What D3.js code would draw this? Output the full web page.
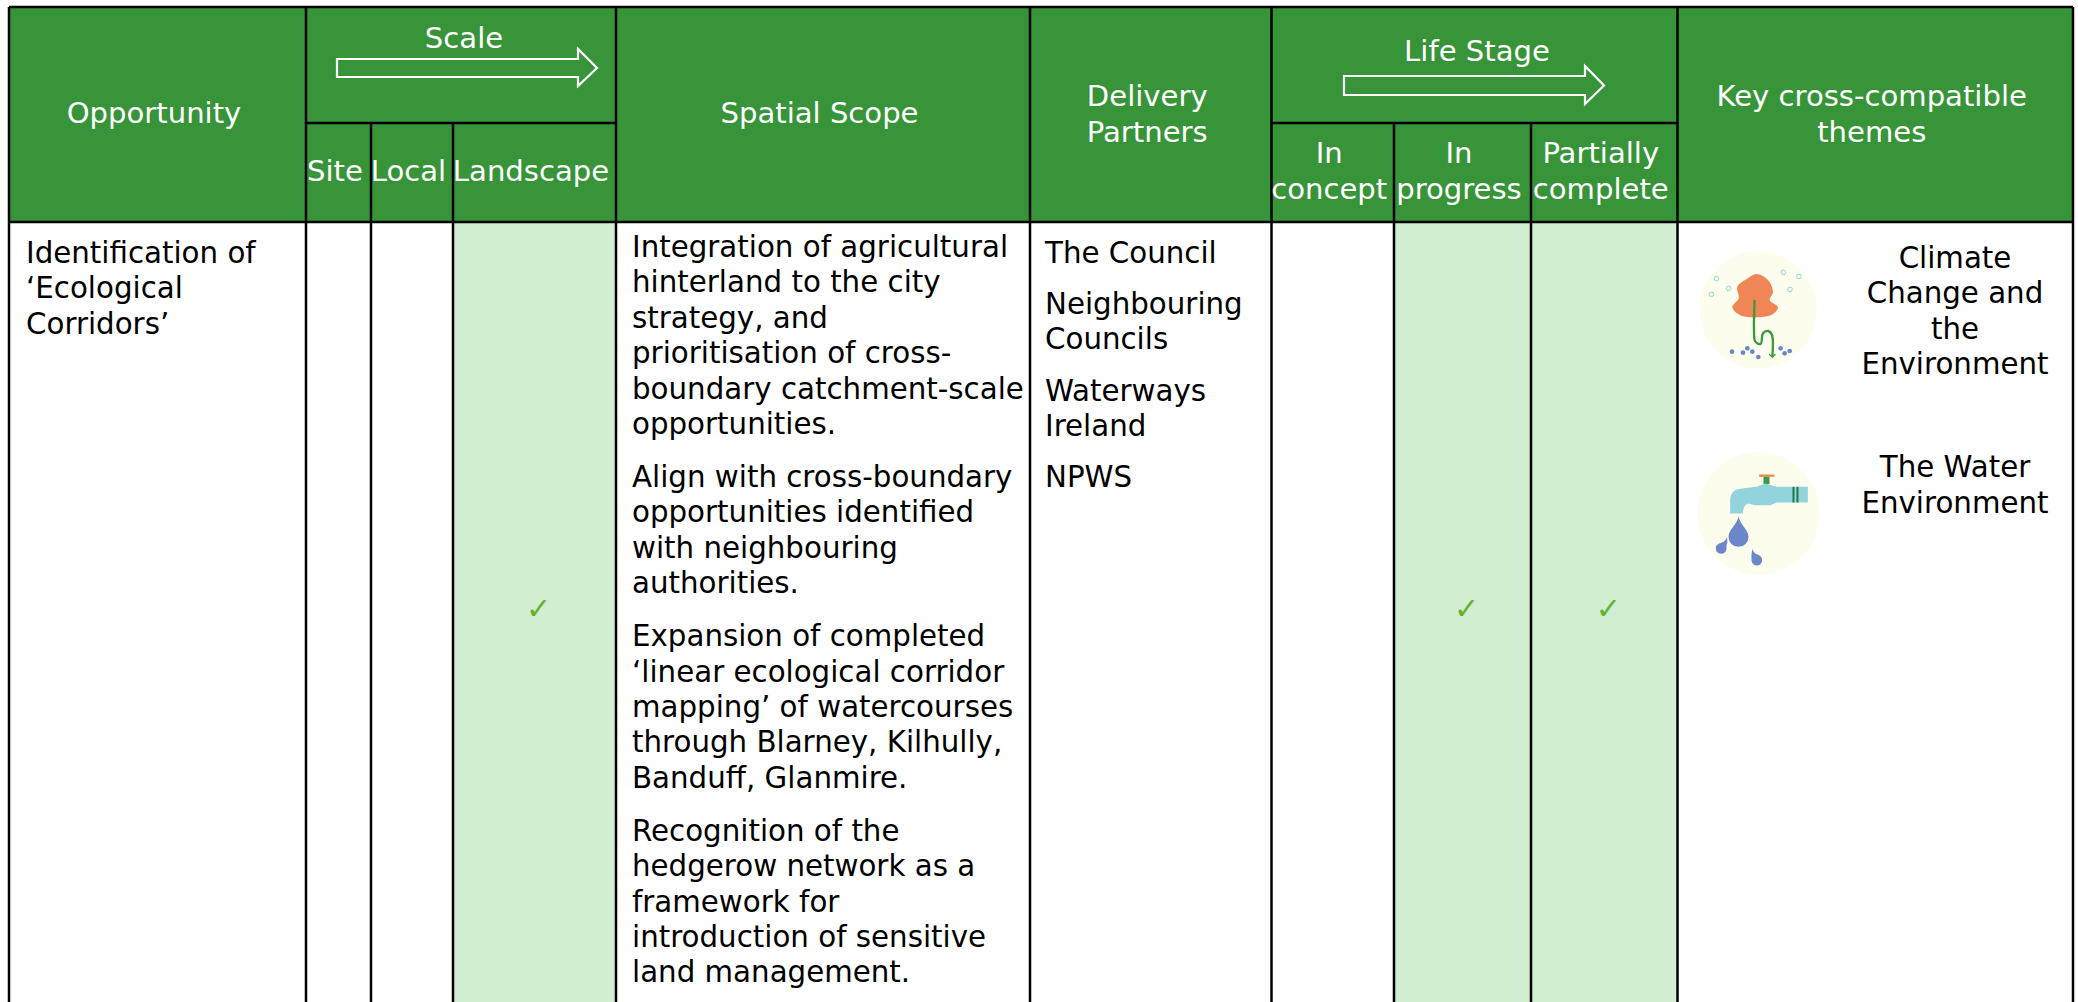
<!DOCTYPE html>
<html>
<head>
<meta charset="utf-8">
<script src="https://cdn.jsdelivr.net/npm/d3@7"></script>
<style>
html, body { margin: 0; padding: 0; background: #fff; }
svg { display: block; }
text { font-family: "DejaVu Sans", Verdana, sans-serif; }
</style>
</head>
<body>
<div id="chart-area"></div>
<script>
// table content
var columns = ["Opportunity", "Site", "Local", "Landscape", "Spatial Scope", "Delivery Partners", "In concept", "In progress", "Partially complete", "Key cross-compatible themes"];
var scaleColumns = ["Site", "Local", "Landscape"];
var stageColumns = ["In concept", "In progress", "Partially complete"];
var scaleTicks = [0, 0, 1];
var stageTicks = [0, 1, 1];
var opportunity = ["Identification of", "\u2018Ecological", "Corridors\u2019"];
var scopeParagraphs = [
	["Integration of agricultural", "hinterland to the city", "strategy, and", "prioritisation of cross-", "boundary catchment-scale", "opportunities."],
	["Align with cross-boundary", "opportunities identified", "with neighbouring", "authorities."],
	["Expansion of completed", "\u2018linear ecological corridor", "mapping\u2019 of watercourses", "through Blarney, Kilhully,", "Banduff, Glanmire."],
	["Recognition of the", "hedgerow network as a", "framework for", "introduction of sensitive", "land management."]
];
var partners = [["The Council"], ["Neighbouring", "Councils"], ["Waterways", "Ireland"], ["NPWS"]];
var climateTheme = ["Climate", "Change and", "the", "Environment"];
var waterTheme = ["The Water", "Environment"];

// layout
var edges = [9, 306, 371, 453, 616, 1030, 1271.5, 1394, 1531, 1677.5, 2073];
var x = d3.scaleOrdinal().domain(columns).range(edges);
var nextEdge = d3.scaleOrdinal().domain(columns).range(edges.slice(1));
var middle = (c)=>{return (x(c)+nextEdge(c))/2;};
var top_y = 7, mid_y = 123, head_y = 222, bottom_y = 1002;
var lh = 35.4, para_gap = 53;
var green = "#379439", pale = "#d1eed3";
var fs = 29.3, head_fs = 29.1;
var text_shift = -3.5, tick_shift = 4;

var svg = d3.select("#chart-area").append("svg")
	.attr("width", 2078)
	.attr("height", 1002);

function lines(g, arr, xpos, y0, anchor, color, step) {
	arr.forEach((t, i)=>{
		g.append("text")
			.attr("x", xpos)
			.attr("y", y0 + i*(step || lh))
			.attr("text-anchor", anchor)
			.attr("font-size", color=="#fff" ? head_fs : fs)
			.attr("fill", color)
			.text(t);
	});
}

// header band
svg.append("rect")
	.attr("x", x("Opportunity")).attr("y", top_y)
	.attr("width", edges[10]-edges[0]).attr("height", head_y-top_y)
	.attr("fill", green);

// pale cells for ticked columns
var ticked = scaleColumns.map((c, i)=>{return {col: c, on: scaleTicks[i]};})
	.concat(stageColumns.map((c, i)=>{return {col: c, on: stageTicks[i]};}));
svg.selectAll("rect.cell").data(ticked.filter((d)=>{return d.on;}))
	.enter().append("rect")
	.attr("class", "cell")
	.attr("x", (d)=>{return x(d.col);})
	.attr("y", head_y)
	.attr("width", (d)=>{return nextEdge(d.col)-x(d.col);})
	.attr("height", bottom_y-head_y)
	.attr("fill", pale);

// grid lines
var grid = svg.append("g").attr("stroke", "#000").attr("stroke-width", 2.5);
[edges[0], x("Site"), x("Spatial Scope"), x("Delivery Partners"), x("In concept"), x("Key cross-compatible themes"), edges[10]].forEach((v)=>{
	grid.append("line").attr("x1", v).attr("x2", v).attr("y1", top_y).attr("y2", bottom_y);
});
[x("Local"), x("Landscape"), x("In progress"), x("Partially complete")].forEach((v)=>{
	grid.append("line").attr("x1", v).attr("x2", v).attr("y1", mid_y).attr("y2", bottom_y);
});
grid.append("line").attr("x1", edges[0]).attr("x2", edges[10]).attr("y1", top_y).attr("y2", top_y);
grid.append("line").attr("x1", edges[0]).attr("x2", edges[10]).attr("y1", head_y).attr("y2", head_y);
grid.append("line").attr("x1", x("Site")).attr("x2", x("Spatial Scope")).attr("y1", mid_y).attr("y2", mid_y);
grid.append("line").attr("x1", x("In concept")).attr("x2", x("Key cross-compatible themes")).attr("y1", mid_y).attr("y2", mid_y);

// header text
var head = svg.append("g");
lines(head, ["Opportunity"], middle("Opportunity")+text_shift, 123, "middle", "#fff");
lines(head, ["Scale"], 464, 48, "middle", "#fff");
lines(head, ["Spatial Scope"], middle("Spatial Scope")+text_shift, 123, "middle", "#fff");
lines(head, ["Delivery", "Partners"], middle("Delivery Partners")+text_shift, 106, "middle", "#fff", 36);
lines(head, ["Life Stage"], 1477, 61, "middle", "#fff");
lines(head, ["Key cross-compatible", "themes"], middle("Key cross-compatible themes")+text_shift, 106, "middle", "#fff", 36);
scaleColumns.forEach((c)=>{ lines(head, [c], middle(c)+text_shift, 181, "middle", "#fff"); });
stageColumns.forEach((c)=>{ lines(head, c.split(" "), middle(c)+text_shift, 163, "middle", "#fff", 36); });

// scale arrows
function arrow(x0, x1, xh, y0, y1, yh0, yh1) {
	var ym = (y0+y1)/2;
	svg.append("path")
		.attr("d", "M"+x0+","+y0+"H"+xh+"V"+yh0+"L"+x1+","+ym+"L"+xh+","+yh1+"V"+y1+"H"+x0+"Z")
		.attr("fill", green).attr("stroke", "#fff").attr("stroke-width", 2.2);
}
arrow(337, 597, 578, 59, 77, 49, 86);
arrow(1344, 1604, 1585, 76, 95, 66, 104);

// body text
var body = svg.append("g");
lines(body, opportunity, 26, 262.5, "start", "#000", 35.6);
var yp = 257;
scopeParagraphs.forEach((p)=>{
	lines(body, p, 632, yp, "start", "#000");
	yp += (p.length-1)*lh + para_gap;
});
var yq = 262.5;
partners.forEach((p)=>{
	lines(body, p, 1045, yq, "start", "#000", 35.2);
	yq += (p.length-1)*35.2 + 51.5;
});
lines(body, climateTheme, 1955, 267.5, "middle", "#000", 35.6);
lines(body, waterTheme, 1955, 477, "middle", "#000", 36);

// ticks
svg.selectAll("text.tick").data(ticked.filter((d)=>{return d.on;}))
	.enter().append("text")
	.attr("class", "tick")
	.attr("x", (d)=>{return middle(d.col)+tick_shift;})
	.attr("y", 619)
	.attr("text-anchor", "middle")
	.attr("font-size", 30)
	.attr("fill", "#64b32e")
	.text("\u2713");

// theme icons, drawn in units of a 3x crop around the circle centre
var blob = d3.line().curve(d3.curveCatmullRomClosed);
var smooth = d3.line().curve(d3.curveCatmullRom);

var ic1 = svg.append("g").attr("transform", "translate(1758,310) scale(0.3333)");
ic1.append("circle").attr("r", 176).attr("fill", "#fdfded");
ic1.append("path").attr("fill", "#f08656")
	.attr("d", blob([[-62,-70],[-35,-92],[-5,-108],[30,-90],[45,-55],[35,-30],[60,-8],[40,15],[-50,17],[-77,-8],[-58,-35]]));
ic1.append("path").attr("fill", "none").attr("stroke", "#3c9a3e").attr("stroke-width", 7)
	.attr("d", smooth([[-10,-30],[-12,60],[-8,95],[8,102],[15,70],[30,63],[42,75],[43,140]]));
ic1.append("path").attr("fill", "none").attr("stroke", "#3c9a3e").attr("stroke-width", 4).attr("d", "M34,132L43,142L52,132");
ic1.selectAll("circle.bubble").data([[-125,-94],[-88,-65],[-140,-47],[76,-113],[123,-101],[96,-62]])
	.enter().append("circle").attr("class", "bubble")
	.attr("cx", (d)=>{return d[0];}).attr("cy", (d)=>{return d[1];}).attr("r", 7)
	.attr("fill", "none").attr("stroke", "#93d3dc").attr("stroke-width", 3);
ic1.selectAll("circle.dot").data([[-78,125],[-45,128],[-32,115],[-17,125],[1,141],[68,115],[80,130],[95,123]])
	.enter().append("circle").attr("class", "dot")
	.attr("cx", (d)=>{return d[0];}).attr("cy", (d)=>{return d[1];}).attr("r", 7)
	.attr("fill", "#6b87c9");

var ic2 = svg.append("g").attr("transform", "translate(1758.5,513.5) scale(0.3333)");
ic2.append("circle").attr("r", 184).attr("fill", "#fdfded");
ic2.append("rect").attr("x", 2).attr("y", -117).attr("width", 46).attr("height", 7).attr("fill", "#f08656");
ic2.append("rect").attr("x", 15).attr("y", -110).attr("width", 18).attr("height", 22).attr("fill", "#3c9a3e");
ic2.append("path").attr("fill", "#93d3dc")
	.attr("d", "M-85,0V-40Q-85,-72 -50,-75L-5,-80L20,-90L55,-80H148V-33H55L35,-25H-10L-30,-30Q-47,-25 -47,0Z");
ic2.append("rect").attr("x", 102).attr("y", -80).attr("width", 6).attr("height", 47).attr("fill", "#1f7a4a");
ic2.append("rect").attr("x", 114).attr("y", -80).attr("width", 6).attr("height", 47).attr("fill", "#1f7a4a");
function drop(tx, ty, cx, cy, r) {
	ic2.append("path").attr("fill", "#6b87c9")
		.attr("d", "M"+tx+","+ty+"C"+(tx+4)+","+(ty+25)+" "+(cx+r)+","+(cy-22)+" "+(cx+r)+","+cy+"A"+r+","+r+" 0 0 1 "+(cx-r)+","+cy+"C"+(cx-r)+","+(cy-22)+" "+(tx-4)+","+(ty+25)+" "+tx+","+ty+"Z");
}
drop(-60, 8, -60, 70, 30);
drop(-95, 70, -112, 105, 16);
drop(-18, 105, -5, 140, 16);
</script>
</body>
</html>
